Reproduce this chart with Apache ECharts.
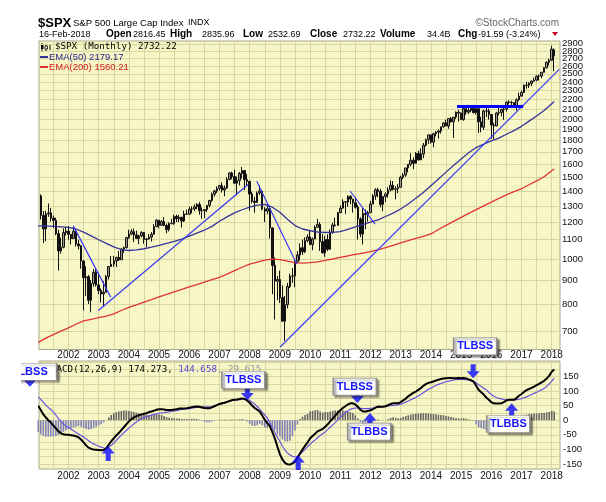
<!DOCTYPE html>
<html><head><meta charset="utf-8">
<script src="https://cdn.jsdelivr.net/npm/echarts@6/dist/echarts.min.js"></script>
<style>html,body{margin:0;padding:0;background:#fff}#c{width:606px;height:502px}</style>
</head><body><div id="c"></div>
<script>
// ---- data (monthly, index 0 = Jan 2001) ----
const startYear = 2001;
const priceOpen = [1320.3,1366.0,1239.9,1160.3,1249.5,1255.8,1224.4,1211.2,1133.6,1040.9,1059.8,1139.5,
1148.1,1130.2,1106.7,1147.4,1076.9,1067.1,989.8,911.6,916.1,815.3,885.8,936.3,
879.8,855.7,841.2,848.2,916.9,963.6,974.5,990.3,1008.0,996.0,1050.7,1058.2,
1111.9,1131.1,1144.9,1126.2,1107.3,1120.7,1140.8,1101.7,1104.2,1114.6,1130.2,1173.8,
1211.9,1181.3,1203.6,1180.6,1156.9,1191.5,1191.3,1234.2,1220.3,1228.8,1207.0,1249.5,
1248.3,1280.1,1280.7,1294.8,1310.6,1270.1,1270.2,1276.7,1303.8,1335.9,1377.9,1400.6,
1418.3,1438.2,1406.8,1420.9,1482.4,1530.6,1503.4,1455.3,1474.0,1526.8,1549.4,1481.1,
1468.4,1378.6,1330.6,1322.7,1385.6,1400.4,1280.0,1267.4,1282.8,1166.4,968.8,896.2,
903.3,825.9,735.1,797.9,872.8,919.1,919.3,987.5,1020.6,1057.1,1036.2,1095.6,
1115.1,1073.9,1104.5,1169.4,1186.7,1089.4,1030.7,1101.6,1049.3,1141.2,1183.3,1180.6,
1257.6,1286.1,1327.2,1325.8,1363.6,1345.2,1320.6,1292.3,1218.9,1131.4,1253.3,1247.0,
1257.6,1312.4,1365.7,1408.5,1397.9,1310.3,1362.2,1379.3,1406.6,1440.7,1412.2,1416.2,
1426.2,1498.1,1514.7,1569.2,1597.6,1630.7,1606.3,1685.7,1633.0,1681.6,1756.5,1805.8,
1848.4,1782.6,1859.5,1872.3,1884.0,1923.6,1960.2,1930.7,2003.4,1972.3,2018.1,2067.6,
2058.9,1995.0,2104.5,2067.9,2085.5,2107.4,2063.1,2103.8,1972.2,1920.0,2079.4,2080.4,
2043.9,1940.2,1932.2,2059.7,2065.3,2097.0,2098.9,2173.6,2171.0,2168.3,2126.2,2198.8,
2238.8,2278.9,2363.6,2362.7,2384.2,2411.8,2423.4,2470.3,2471.7,2519.4,2575.3,2647.6,
2673.6,2816.45];
const priceHigh = [1383.4,1376.4,1267.4,1269.3,1315.9,1286.6,1239.8,1226.3,1155.4,1110.6,1163.4,1173.0,
1176.6,1130.2,1173.0,1147.8,1099.3,1070.7,994.5,965.0,924.0,900.7,951.6,954.3,
935.0,864.6,895.9,924.2,965.4,1015.3,1015.4,1011.0,1040.0,1053.8,1063.7,1112.6,
1155.4,1158.9,1163.2,1150.6,1127.7,1146.3,1140.8,1108.6,1131.5,1142.0,1188.5,1217.3,
1211.9,1212.4,1229.1,1191.9,1199.6,1219.6,1245.2,1245.9,1243.1,1233.3,1270.6,1275.8,
1294.9,1297.6,1310.9,1318.2,1326.7,1290.7,1280.4,1306.7,1340.3,1389.5,1407.9,1431.8,
1441.6,1461.6,1438.9,1498.0,1535.6,1540.6,1555.9,1503.9,1538.7,1576.1,1545.8,1523.6,
1471.8,1396.0,1359.7,1397.0,1440.2,1404.0,1292.2,1313.2,1303.0,1167.0,1007.5,918.9,
943.9,877.9,833.0,888.7,930.2,956.2,996.7,1039.5,1080.2,1101.4,1113.7,1130.4,
1150.5,1112.4,1180.7,1219.8,1200.3,1131.2,1121.0,1129.2,1157.2,1196.1,1227.1,1262.6,
1302.7,1344.1,1332.3,1370.6,1370.6,1345.2,1356.5,1307.4,1229.3,1292.7,1277.6,1269.4,
1333.5,1378.0,1419.2,1422.4,1415.3,1363.5,1391.7,1426.7,1474.5,1471.0,1434.3,1448.0,
1509.9,1530.9,1570.3,1597.6,1687.2,1654.2,1698.8,1709.7,1729.9,1775.2,1813.6,1849.4,
1850.8,1867.9,1884.0,1897.3,1924.0,1968.2,1991.4,2005.0,2019.3,2018.2,2075.8,2093.6,
2064.4,2119.6,2117.5,2125.9,2134.7,2129.9,2132.8,2112.7,2020.9,2094.3,2116.5,2104.3,
2038.2,1963.0,2072.2,2111.1,2103.5,2120.6,2177.1,2193.8,2187.9,2169.6,2214.1,2277.5,
2301.0,2371.5,2401.0,2398.2,2418.7,2453.8,2484.0,2490.9,2519.4,2582.0,2657.7,2695.0,
2872.9,2835.96];
const priceLow = [1274.6,1215.4,1081.2,1092.0,1232.0,1203.0,1165.5,1124.9,944.8,1026.8,1054.0,1123.2,
1101.0,1074.4,1106.7,1063.5,1048.3,952.9,775.7,833.4,800.2,768.6,872.0,872.6,
840.3,806.3,788.9,847.9,902.8,963.6,962.1,960.8,990.4,995.9,1031.2,1053.4,
1105.0,1124.4,1087.2,1107.2,1076.3,1113.3,1078.8,1060.7,1101.3,1090.2,1127.6,1173.8,
1163.8,1180.9,1176.9,1136.2,1146.2,1188.3,1183.6,1201.1,1201.1,1168.2,1201.1,1246.6,
1245.7,1253.6,1268.4,1280.7,1245.3,1219.3,1224.5,1261.3,1290.9,1327.1,1360.9,1385.9,
1404.0,1389.4,1364.0,1416.4,1476.7,1484.2,1454.3,1370.6,1439.3,1489.6,1406.1,1435.7,
1270.1,1316.8,1257.0,1324.4,1373.1,1272.0,1200.4,1247.5,1106.4,839.8,741.0,815.7,
804.3,734.5,666.8,783.3,866.1,888.9,869.3,978.5,992.0,1020.6,1029.4,1085.9,
1071.6,1044.5,1105.4,1170.7,1040.8,1028.3,1010.9,1039.7,1048.0,1131.9,1173.0,1180.6,
1257.6,1282.9,1249.0,1294.7,1311.8,1258.1,1282.9,1101.5,1114.2,1074.8,1158.7,1202.4,
1258.9,1312.4,1340.0,1357.4,1291.0,1266.7,1325.4,1354.7,1396.6,1403.3,1343.4,1385.4,
1426.2,1485.0,1501.5,1536.0,1581.3,1560.3,1604.6,1627.5,1633.4,1646.5,1746.2,1768.0,
1770.5,1737.9,1834.4,1814.4,1859.8,1916.0,1930.7,1904.8,1964.0,1820.7,2001.0,1972.6,
1988.1,1980.9,2039.7,2048.4,2067.9,2056.3,2044.0,1867.0,1871.9,1893.7,2019.4,1993.3,
1812.3,1810.1,1937.1,2033.8,2025.9,1991.7,2074.0,2147.6,2119.1,2114.7,2083.8,2187.4,
2245.1,2271.7,2322.3,2329.0,2352.7,2405.7,2407.7,2417.4,2446.6,2520.4,2566.2,2605.5,
2682.4,2532.69];
const priceClose = [1366.0,1239.9,1160.3,1249.5,1255.8,1224.4,1211.2,1133.6,1040.9,1059.8,1139.5,1148.1,
1130.2,1106.7,1147.4,1076.9,1067.1,989.8,911.6,916.1,815.3,885.8,936.3,879.8,
855.7,841.2,848.2,916.9,963.6,974.5,990.3,1008.0,996.0,1050.7,1058.2,1111.9,
1131.1,1144.9,1126.2,1107.3,1120.7,1140.8,1101.7,1104.2,1114.6,1130.2,1173.8,1211.9,
1181.3,1203.6,1180.6,1156.9,1191.5,1191.3,1234.2,1220.3,1228.8,1207.0,1249.5,1248.3,
1280.1,1280.7,1294.8,1310.6,1270.1,1270.2,1276.7,1303.8,1335.9,1377.9,1400.6,1418.3,
1438.2,1406.8,1420.9,1482.4,1530.6,1503.4,1455.3,1474.0,1526.8,1549.4,1481.1,1468.4,
1378.6,1330.6,1322.7,1385.6,1400.4,1280.0,1267.4,1282.8,1166.4,968.8,896.2,903.3,
825.9,735.1,797.9,872.8,919.1,919.3,987.5,1020.6,1057.1,1036.2,1095.6,1115.1,
1073.9,1104.5,1169.4,1186.7,1089.4,1030.7,1101.6,1049.3,1141.2,1183.3,1180.6,1257.6,
1286.1,1327.2,1325.8,1363.6,1345.2,1320.6,1292.3,1218.9,1131.4,1253.3,1247.0,1257.6,
1312.4,1365.7,1408.5,1397.9,1310.3,1362.2,1379.3,1406.6,1440.7,1412.2,1416.2,1426.2,
1498.1,1514.7,1569.2,1597.6,1630.7,1606.3,1685.7,1633.0,1681.6,1756.5,1805.8,1848.4,
1782.6,1859.5,1872.3,1884.0,1923.6,1960.2,1930.7,2003.4,1972.3,2018.1,2067.6,2058.9,
1995.0,2104.5,2067.9,2085.5,2107.4,2063.1,2103.8,1972.2,1920.0,2079.4,2080.4,2043.9,
1940.2,1932.2,2059.7,2065.3,2097.0,2098.9,2173.6,2171.0,2168.3,2126.2,2198.8,2238.8,
2278.9,2363.6,2362.7,2384.2,2411.8,2423.4,2470.3,2471.7,2519.4,2575.3,2647.6,2673.6,
2823.8,2732.22];

// EMA lines, read quarterly (month index)
const emaMonths = [0,3,6,9,12,15,18,21,24,27,30,33,36,39,42,45,48,51,54,57,60,63,66,69,72,75,78,81,84,87,90,93,96,99,102,105,108,111,114,117,120,123,126,129,132,135,138,141,144,147,150,153,156,159,162,165,168,171,174,177,180,183,186,189,192,195,198,201,204,205];
const ema50 = [1178,1178,1175,1172,1169,1160,1142,1121,1100,1080,1062,1047,1043,1046,1052,1060,1070,1081,1091,1103,1120,1136,1153,1175,1205,1232,1256,1276,1292,1306,1310,1292,1260,1218,1180,1160,1150,1143,1140,1141,1145,1158,1172,1186,1200,1214,1234,1255,1281,1313,1350,1389,1437,1486,1537,1589,1640,1691,1736,1765,1794,1819,1854,1888,1928,1978,2029,2085,2157,2179.17];
const ema200 = [662,676,688,700,711,724,736,742,748,754,762,775,787,797,808,818,829,839,850,860,871,881,892,903,913,928,944,960,975,985,994,999,997,990,982,980,982,986,993,1000,1008,1015,1023,1030,1037,1046,1058,1070,1083,1095,1107,1119,1132,1157,1181,1205,1229,1253,1277,1301,1325,1350,1373,1396,1416,1444,1472,1502,1548,1560.21];

// MACD(12,26,9) monthly
const macdLine = [50,35,20,10,0,-8,-18,-28,-38,-45,-48,-50,
-50,-51,-52,-55,-58,-66,-76,-86,-94,-98,-100,-101,
-102,-103,-102,-96,-84,-72,-62,-52,-44,-34,-24,-14,
-4,4,10,14,17,20,22,24,28,30,33,36,
38,38,37,35,35,35,37,38,40,40,40,41,
43,45,46,47,46,44,42,41,41,44,48,52,
56,58,60,63,66,69,70,71,73,75,73,68,
60,50,42,36,30,16,2,-10,-20,-40,-62,-90,
-116,-134,-146,-151,-152,-148,-142,-128,-114,-100,-88,-76,
-62,-54,-46,-38,-34,-30,-22,-14,-4,6,16,26,
34,42,48,54,58,58,54,46,36,30,30,32,
34,38,43,47,46,46,48,52,56,58,58,58,
62,68,74,82,88,94,98,104,110,118,124,128,
130,133,136,139,141,143,144,145,145,144,144,145,
144,145,143,140,137,132,118,104,96,88,78,70,
62,58,57,57,58,62,68,70,70,70,76,84,
90,97,103,107,111,115,120,125,130,135,143,152,
166,174.273];
const signalLine = [80,71,62,52,44,37,28,18,6,-4,-13,-20,
-25,-30,-36,-42,-47,-52,-57,-63,-70,-76,-81,-85,
-89,-92,-95,-96,-92,-86,-78,-69,-60,-51,-43,-35,
-27,-20,-12,-6,0,5,9,12,15,18,20,22,
24,25,26,28,29,30,32,34,35,37,38,39,
40,41,43,44,45,46,46,46,46,47,49,52,
55,57,59,62,65,67,69,70,71,72,72,71,
68,62,55,47,38,28,18,8,-8,-24,-42,-58,
-72,-88,-102,-112,-118,-124,-126,-124,-116,-108,-100,-90,
-82,-74,-68,-60,-52,-46,-40,-32,-24,-16,-8,2,
10,18,26,32,38,40,42,42,41,40,40,40,
41,42,44,45,46,47,48,49,50,51,52,53,
55,58,62,66,70,74,78,83,88,94,100,106,
110,115,119,123,126,129,132,134,136,138,139,140,
140,140,139,138,136,133,128,122,116,110,104,96,
88,82,78,75,73,71,70,70,70,70,71,72,
74,77,80,84,88,92,96,100,104,110,116,124,
134,144.658];
const macdHist = [-40,-48,-54,-56,-56,-56,-55,-54,-50,-46,-40,-35,
-30,-28,-25,-22,-20,-22,-26,-30,-32,-30,-27,-22,
-18,-14,-8,0,10,18,24,28,30,32,33,33,
32,30,28,26,24,22,20,19,18,18,19,20,
20,18,15,11,9,8,7,6,6,5,4,4,
4,5,5,4,2,-2,-5,-7,-7,-4,-2,0,
2,2,2,2,2,3,2,2,3,4,2,-4,
-12,-18,-20,-17,-12,-18,-24,-27,-20,-25,-32,-48,
-55,-66,-72,-73,-70,-55,-35,-15,4,12,18,22,
30,32,34,35,30,26,28,28,30,32,34,34,
34,34,32,30,28,25,17,6,-6,-13,-14,-11,
-9,-5,-1,3,0,-1,0,4,8,10,8,7,
8,11,14,17,19,21,22,23,24,24,24,23,
22,21,20,19,18,17,15,13,11,9,7,6,
6,7,5,3,1,-2,-14,-24,-27,-30,-33,-33,
-33,-31,-28,-24,-20,-12,-3,0,0,0,6,14,
14,17,19,21,22,22,23,24,25,25,27,28,
33,29.615];

// trend lines [startMonth, startPrice, endMonth, endPrice]
const trendLines = [[13.9,1178,28.8,828],[23.9,775,83.5,1447],[86.8,1470,102.7,976],[123.9,1400,133.8,1188],[96.1,647,207.0,2556]];
const resistanceLine = [166.4,2128,192.7,2128];

// tick labels
const priceTicks = [700,800,900,1000,1100,1200,1300,1400,1500,1600,1700,1800,1900,2000,2100,2200,2300,2400,2500,2600,2700,2800,2900];
const yearTicks = [2002,2003,2004,2005,2006,2007,2008,2009,2010,2011,2012,2013,2014,2015,2016,2017,2018];
const macdTicks = [-150,-100,-50,0,50,100,150];
const macdGrid = [-150,-125,-100,-75,-50,-25,0,25,50,75,100,125,150,175,200];

// annotations on MACD panel [month, macd value, text]
const arrowsDown = [[-3.3,115],[83.1,69],[126.8,59],[172.8,144]];
const arrowsUp = [[27.8,-88],[103.3,-119],[131.8,25],[188.1,58]];
const signalBoxes = [[-2.2,166,'TLBSS'],[81.5,138,'TLBSS'],[125.8,115,'TLBSS'],[131.5,-39,'TLBBS'],[173.6,253,'TLBSS'],[186.8,-13,'TLBBS']];

// ---- chart ----
const BG = '#f7f6c6', GRIDC = '#d9d6a2', BORDER = '#a8a78a';
const FONT = 'Liberation Sans';
const yearMonths = yearTicks.map(y => (y - startYear) * 12);
const halfYears = []; for (let m = 6; m <= 206; m += 6) halfYears.push(m);
const candleData = priceClose.map((c, i) => [i, priceOpen[i], c, priceLow[i], priceHigh[i]]);
const ticksA = priceTicks.filter((v, i) => i % 2 === 0);   // 700, 900, ... 2900
const ticksB = priceTicks.filter((v, i) => i % 2 === 1);   // 800, 1000, ... 2800
const chart = echarts.init(document.getElementById('c'), null, {renderer: 'canvas'});

const xAxisBase = (gi) => ({
  type: 'value', gridIndex: gi, min: 0.3, max: 207.3,
  axisLine: {show: false},
  axisTick: {show: false, customValues: halfYears},
  axisLabel: {customValues: yearMonths, formatter: v => String(startYear + Math.round(v / 12)),
    fontFamily: FONT, fontSize: 10, color: '#111', margin: gi === 0 ? 1 : 2, showMaxLabel: true, showMinLabel: true},
  splitLine: {show: true, lineStyle: {color: GRIDC, width: 1}}
});
const priceLabelAxis = (ticks, withGrid) => ({
  type: 'value', gridIndex: 0, position: 'right', min: Math.log(639), max: Math.log(2941),
  axisLine: {show: false},
  axisTick: {show: false, customValues: priceTicks.map(Math.log)},
  axisLabel: {customValues: ticks.map(Math.log), formatter: v => String(Math.round(Math.exp(v))),
    fontFamily: FONT, fontSize: 9.5, color: '#111', margin: 2, showMaxLabel: true, showMinLabel: true},
  splitLine: {show: withGrid, lineStyle: {color: GRIDC, width: 1}}
});

const series = [];
series.push({
  type: 'candlestick', xAxisIndex: 0, yAxisIndex: 0, data: candleData,
  encode: {x: 0, y: [1, 2, 3, 4]}, barWidth: 2,
  itemStyle: {color: '#9a9a86', color0: '#111', borderColor: '#111', borderColor0: '#111', borderWidth: 1},
  z: 3
});
series.push({type: 'line', xAxisIndex: 0, yAxisIndex: 0, data: emaMonths.map((m, i) => [m, ema200[i]]),
  symbol: 'none', lineStyle: {color: '#e03434', width: 1.3}, z: 4});
series.push({type: 'line', xAxisIndex: 0, yAxisIndex: 0, data: emaMonths.map((m, i) => [m, ema50[i]]),
  symbol: 'none', lineStyle: {color: '#34349a', width: 1.3}, z: 4});
trendLines.forEach(t => series.push({type: 'line', xAxisIndex: 0, yAxisIndex: 0,
  data: [[t[0], t[1]], [t[2], t[3]]], symbol: 'none', lineStyle: {color: '#3a3af0', width: 1.2}, z: 5}));
series.push({type: 'line', xAxisIndex: 0, yAxisIndex: 0,
  data: [[resistanceLine[0], resistanceLine[1]], [resistanceLine[2], resistanceLine[3]]],
  symbol: 'none', lineStyle: {color: '#0000ff', width: 3}, z: 5});

// MACD panel
series.push({type: 'bar', xAxisIndex: 1, yAxisIndex: 2, data: macdHist.map((v, i) => [i, v]),
  barWidth: 1.6, itemStyle: {color: p => p.value[1] >= 0 ? '#666666' : '#8282b8'}, z: 2});
series.push({type: 'line', xAxisIndex: 1, yAxisIndex: 2, data: signalLine.map((v, i) => [i, v]),
  symbol: 'none', lineStyle: {color: '#6a52dc', width: 1.2}, z: 3});
series.push({type: 'line', xAxisIndex: 1, yAxisIndex: 2, data: macdLine.map((v, i) => [i, v]),
  symbol: 'none', lineStyle: {color: '#000', width: 2}, z: 4});
series.push({type: 'scatter', xAxisIndex: 1, yAxisIndex: 2, clip: false, data: arrowsDown,
  symbol: 'path://M4,0L9,0L9,7L13,7L6.5,14L0,7L4,7Z', symbolSize: [13, 14], symbolOffset: [0, -7],
  itemStyle: {color: '#0a0aff'}, z: 8});
series.push({type: 'scatter', xAxisIndex: 1, yAxisIndex: 2, clip: false, data: arrowsUp,
  symbol: 'path://M6.5,0L13,7L9,7L9,14L4,14L4,7L0,7Z', symbolSize: [13, 15], symbolOffset: [0, 7.5],
  itemStyle: {color: '#0a0aff'}, z: 8});
series.push({type: 'scatter', xAxisIndex: 1, yAxisIndex: 2, clip: false,
  data: signalBoxes.map((b, i) => i === 0
    ? {value: b, symbolSize: [48, 17], label: {offset: [-3, 0]}}
    : {value: b}),
  symbol: 'rect', symbolSize: [43, 17],
  itemStyle: {color: '#fff', borderColor: '#8c8c8c', borderWidth: 1, shadowColor: 'rgba(0,0,0,0.45)', shadowBlur: 2, shadowOffsetX: 2, shadowOffsetY: 2, opacity: 1},
  label: {show: true, position: 'inside', formatter: p => p.value[2], color: '#1414ff', fontWeight: 'bold', fontFamily: FONT, fontSize: 11},
  z: 10});
// page edge: the first signal box is cut off on the left
series.push({type: 'custom', xAxisIndex: 1, yAxisIndex: 2, clip: false, silent: true, data: [[0, 0]], z: 50,
  renderItem: () => ({type: 'rect', shape: {x: 0, y: 352, width: 21, height: 40}, style: {fill: '#fff'}})});

const T = (x, y, text, font, fill, extra) => Object.assign({type: 'text', x, y, z: 20,
  style: Object.assign({text, font, fill, verticalAlign: 'middle'}, extra || {})});

const option = {
  animation: false,
  backgroundColor: '#fff',
  grid: [
    {left: 39, right: 46, top: 41, height: 308.5, show: true, backgroundColor: BG, borderColor: BORDER, borderWidth: 1},
    {left: 39, right: 46, top: 361, height: 108, show: true, backgroundColor: BG, borderColor: BORDER, borderWidth: 1}
  ],
  xAxis: [xAxisBase(0), xAxisBase(1)],
  yAxis: [
    {type: 'log', gridIndex: 0, min: 639, max: 2941, show: false},
    priceLabelAxis(ticksA, true),
    {type: 'value', gridIndex: 1, position: 'right', min: -167, max: 203,
      axisLine: {show: false},
      axisTick: {show: false, customValues: macdGrid},
      axisLabel: {customValues: macdTicks, fontFamily: FONT, fontSize: 9.5, color: '#111', margin: 3},
      splitLine: {show: true, lineStyle: {color: GRIDC, width: 1}}},
    priceLabelAxis(ticksB, false)
  ],
  series,
  graphic: [
    T(38, 23, '$SPX', 'bold 13px ' + FONT, '#000'),
    T(73, 23, 'S&P 500 Large Cap Index', '9.5px ' + FONT, '#000'),
    T(188, 23, 'INDX', '9px ' + FONT, '#000'),
    T(559, 23, '\u00a9StockCharts.com', '10px ' + FONT, '#666', {align: 'right'}),
    T(39, 34.5, '16-Feb-2018', '9px ' + FONT, '#000'),
    T(106, 34.5, 'Open', 'bold 10px ' + FONT, '#000'),
    T(133, 34.5, '2816.45', '9px ' + FONT, '#000'),
    T(170, 34.5, 'High', 'bold 10px ' + FONT, '#000'),
    T(202, 34.5, '2835.96', '9px ' + FONT, '#000'),
    T(243, 34.5, 'Low', 'bold 10px ' + FONT, '#000'),
    T(268, 34.5, '2532.69', '9px ' + FONT, '#000'),
    T(310, 34.5, 'Close', 'bold 10px ' + FONT, '#000'),
    T(343, 34.5, '2732.22', '9px ' + FONT, '#000'),
    T(380, 34.5, 'Volume', 'bold 10px ' + FONT, '#000'),
    T(427, 34.5, '34.4B', '9px ' + FONT, '#000'),
    T(458, 34.5, 'Chg', 'bold 10px ' + FONT, '#000'),
    T(478, 34.5, '-91.59 (-3.24%)', '9px ' + FONT, '#000'),
    {type: 'polygon', z: 20, shape: {points: [[552, 32], [558, 32], [555, 36]]}, style: {fill: '#c00020'}},
    // main legend
    {type: 'group', z: 20, children: [
      {type: 'line', shape: {x1: 42, y1: 43, x2: 42, y2: 51}, style: {stroke: '#000', lineWidth: 1}},
      {type: 'rect', shape: {x: 41, y: 45, width: 2.5, height: 4}, style: {fill: '#000'}},
      {type: 'line', shape: {x1: 46, y1: 44, x2: 46, y2: 51}, style: {stroke: '#000', lineWidth: 1}},
      {type: 'rect', shape: {x: 45, y: 46, width: 2.5, height: 3}, style: {fill: '#fff', stroke: '#000', lineWidth: 0.8}},
      {type: 'line', shape: {x1: 50, y1: 45, x2: 50, y2: 50}, style: {stroke: '#000', lineWidth: 1}}
    ]},
    T(55, 47, '$SPX (Monthly) 2732.22', '9.2px DejaVu Sans Mono', '#000'),
    {type: 'line', z: 20, shape: {x1: 40, y1: 57, x2: 48, y2: 57}, style: {stroke: '#34349a', lineWidth: 2}},
    T(49, 57, 'EMA(50) 2179.17', '9.5px ' + FONT, '#28288f'),
    {type: 'line', z: 20, shape: {x1: 40, y1: 67, x2: 48, y2: 67}, style: {stroke: '#e03434', lineWidth: 2}},
    T(49, 67, 'EMA(200) 1560.21', '9.5px ' + FONT, '#d42020'),
    // MACD legend
    {type: 'text', x: 51, y: 369.5, z: 5, style: {
      text: '{a|MACD(12,26,9) 174.273, }{b|144.658}{c|, 29.615}', verticalAlign: 'middle',
      font: '9.2px DejaVu Sans Mono',
      rich: {a: {fill: '#000', font: '9.2px DejaVu Sans Mono'}, b: {fill: '#5a44d8', font: '9.2px DejaVu Sans Mono'}, c: {fill: '#999', font: '9.2px DejaVu Sans Mono'}}}}
  ]
};
chart.setOption(option);
</script></body></html>
